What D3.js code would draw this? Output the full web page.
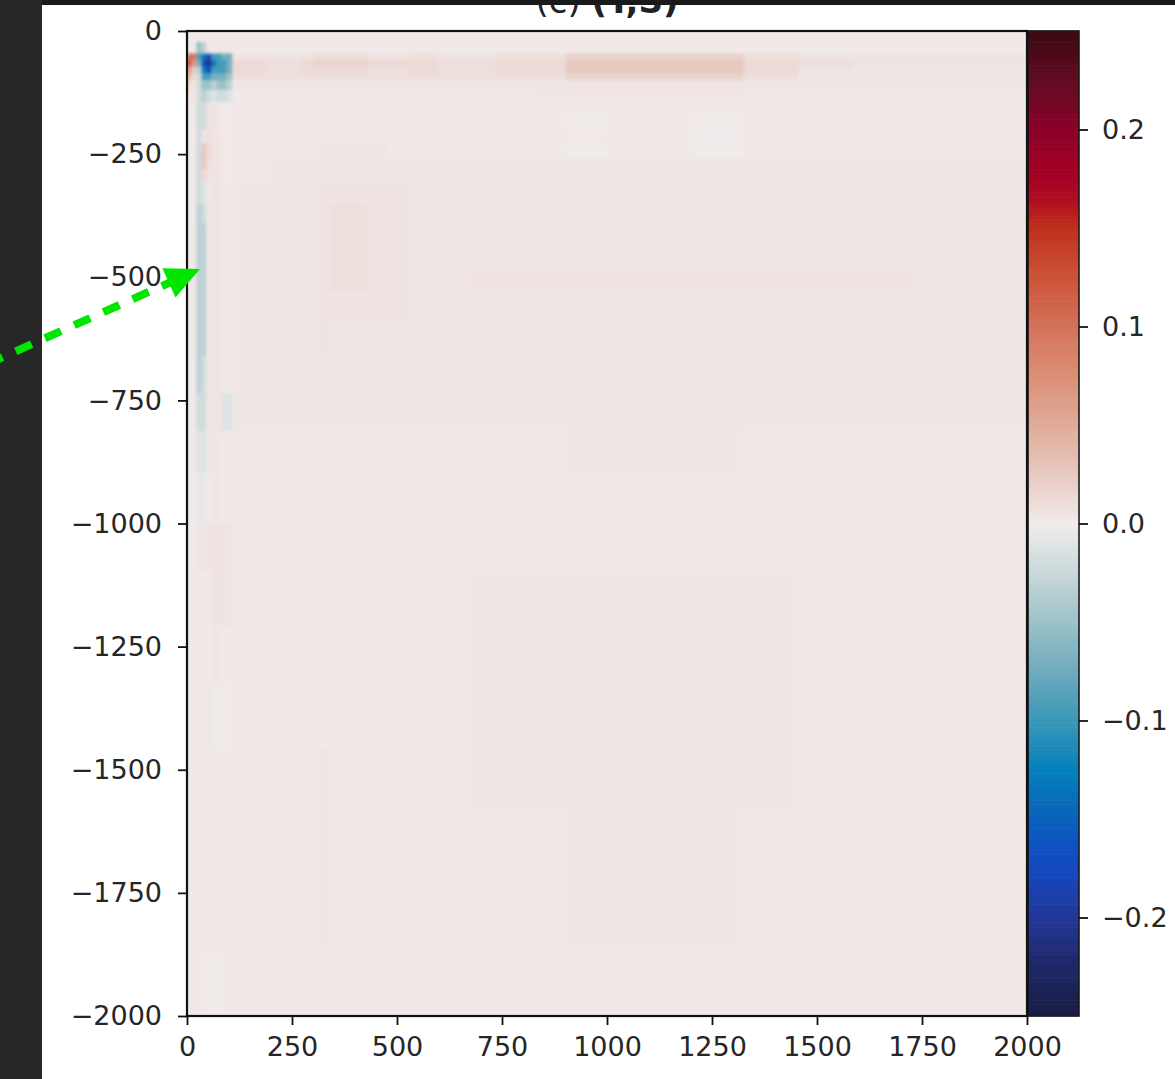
<!DOCTYPE html>
<html><head><meta charset="utf-8">
<script src="https://cdn.jsdelivr.net/npm/d3@7"></script>
<style>body{margin:0;background:#fff;overflow:hidden}svg{display:block}</style>
</head><body>
<svg id="chart" width="1175" height="1079"></svg>
<script>
// ---------- data ----------
const xEdges = [0, 10, 22, 34, 46, 58, 70, 82, 94, 108, 125, 150, 185, 225, 268, 300, 340, 385, 430, 480, 531, 595, 660, 736, 812, 902, 995, 1100, 1207, 1326, 1457, 1588, 1740, 2000];
const depthEdges = [0, 22, 45, 58, 72, 86, 100, 120, 145, 175, 200, 228, 256, 280, 305, 350, 390, 430, 475, 530, 590, 660, 735, 812, 897, 999, 1098, 1208, 1328, 1454, 1582, 1722, 1870, 2000];
const levelCodes  = ['A','B','C','D','E','F','G','H','I','J','0','1','2','3','4','5','6','7','8','9','R','S'];
const levelValues = [-0.21,-0.17,-0.13,-0.095,-0.07,-0.05,-0.033,-0.02,-0.011,-0.005,0,0.002,0.0035,0.0055,0.009,0.013,0.018,0.025,0.04,0.07,0.10,0.13];
// one string per depth row (top to bottom), one code per x column (spaces only for readability)
const fieldRows = [
  "111111111 111111 11111 11111 1111 1111",
  "11FG11111 111111 11111 11111 1111 1111",
  "RRDCBDDEE 333333 44433 43344 6666 4333",
  "S9EBACDDE 555445 66655 54455 7777 5433",
  "97GCBDDDE 555445 55544 54455 7777 5322",
  "85HDDEEEF 444444 44444 44444 6666 4222",
  "53HFFGFFG 222222 22222 22222 3333 2222",
  "32HGHIHHI 111111 11111 11112 2222 1111",
  "11HH33200 111111 11111 11111 1111 1111",
  "11HH33200 111111 11111 11111 0110 1111",
  "11H343301 111111 11111 11111 1110 1111",
  "11H753301 111111 22221 11111 0110 1111",
  "11H743301 111222 22222 22222 2222 2222",
  "11H533301 111222 22222 22222 2222 2222",
  "11HI23311 222222 33333 22222 2222 2222",
  "11GH23311 222222 34433 22222 2222 2222",
  "11GG23311 222222 34433 22222 2222 2222",
  "11GG23311 222222 34433 22222 2222 2222",
  "11GG23311 222222 34433 22333 3333 3332",
  "11GG23311 222222 33333 22222 2222 2222",
  "11GG23311 222222 32222 22222 2222 2222",
  "11GH23311 222222 22222 22222 2222 2222",
  "11HH233II 222222 22222 22222 2222 2222",
  "11IIJ2211 111111 11111 11111 2222 1111",
  "11JJ12211 111111 11111 11111 1111 1111",
  "11J333333 111111 11111 11111 1111 1111",
  "111113333 111111 11111 11222 2222 2111",
  "111112211 111111 11111 11222 2222 2111",
  "1111J1101 111111 11111 11222 2222 2111",
  "111111111 111111 21111 11222 2222 2111",
  "111111111 111111 21111 11111 2222 1111",
  "111111111 111111 21111 11111 2222 1111",
  "111100011 111111 11111 11111 1111 1111"
];
const xTicks = [0, 250, 500, 750, 1000, 1250, 1500, 1750, 2000];
const yTicks = [0, -250, -500, -750, -1000, -1250, -1500, -1750, -2000];
const cbarTicks = [-0.2, -0.1, 0.0, 0.1, 0.2];
const cbarRange = [-0.25, 0.25];
// cmocean "balance" colormap stops
const cmapValues = [-0.25,-0.22,-0.2,-0.18,-0.165,-0.15,-0.125,-0.1,-0.075,-0.05,-0.025,0,0.025,0.05,0.075,0.1,0.125,0.15,0.165,0.18,0.2,0.225,0.25];
const cmapColors = ["#181c43","#1f2a6e","#233799","#1546b8","#0f50c4","#0a61bb","#0480bb","#3a98b9","#6eabbd","#9cc2c8","#c9d8da","#f1eceb","#e7c9c0","#e0ab98","#da8f75","#d4725a","#cc5337","#c0301c","#b00b22","#a10026","#8a0229","#620b22","#3c0912"];
const titleParts = ["(c) ", "(T,S)"];

// ---------- drawing ----------
const svg = d3.select("#chart");
const W = 1175, H = 1079;
const plot = {left: 187, right: 1027, top: 31, bottom: 1016};
const cbar = {left: 1028, right: 1079};
const font = "DejaVu Sans, sans-serif";

const x = d3.scaleLinear().domain([0, 2000]).range([plot.left, plot.right]);
const y = d3.scaleLinear().domain([0, -2000]).range([plot.top, plot.bottom]);
const color = d3.scaleLinear().domain(cmapValues).range(cmapColors).interpolate(d3.interpolateRgb).clamp(true);
const codeToValue = new Map(levelCodes.map((c, i) => [c, levelValues[i]]));

svg.append("rect").attr("width", W).attr("height", H).attr("fill", "#ffffff");

const defs = svg.append("defs");
defs.append("clipPath").attr("id", "plotClip").append("rect")
  .attr("x", plot.left).attr("y", plot.top)
  .attr("width", plot.right - plot.left).attr("height", plot.bottom - plot.top);
defs.append("filter").attr("id", "soft").attr("x", "-5%").attr("y", "-5%").attr("width", "110%").attr("height", "110%")
  .append("feGaussianBlur").attr("stdDeviation", 1.4);

// title (partly covered by the dark strip on top, as in the reference)
const title = svg.append("text").attr("x", (plot.left + plot.right) / 2).attr("y", 13)
  .attr("text-anchor", "middle").attr("font-family", font).attr("font-size", 34).attr("fill", "#222");
title.append("tspan").text(titleParts[0]);
title.append("tspan").attr("font-weight", "bold").text(titleParts[1]);

// heatmap cells
const cells = [];
fieldRows.forEach((row, i) => {
  const codes = row.replace(/ /g, "").split("");
  codes.forEach((c, j) => {
    cells.push({x0: xEdges[j], x1: xEdges[j + 1], d0: depthEdges[i], d1: depthEdges[i + 1], v: codeToValue.get(c)});
  });
});
const clipG = svg.append("g").attr("clip-path", "url(#plotClip)");
const heat = clipG.append("g").attr("filter", "url(#soft)");
heat.append("rect").attr("x", plot.left - 6).attr("y", plot.top - 6)
  .attr("width", plot.right - plot.left + 12).attr("height", plot.bottom - plot.top + 12)
  .attr("fill", color(levelValues[11]));
heat.selectAll("rect.cell").data(cells).join("rect").attr("class", "cell")
  .attr("x", d => x(d.x0)).attr("y", d => y(-d.d0))
  .attr("width", d => x(d.x1) - x(d.x0) + 0.6)
  .attr("height", d => y(-d.d1) - y(-d.d0) + 0.6)
  .attr("fill", d => color(d.v));

// colorbar
const cy = d3.scaleLinear().domain(cbarRange).range([plot.bottom, plot.top]);
const nSteps = 256;
const steps = d3.range(nSteps).map(k => cbarRange[0] + (k + 0.5) * (cbarRange[1] - cbarRange[0]) / nSteps);
const stepH = (plot.bottom - plot.top) / nSteps;
svg.append("g").selectAll("rect").data(steps).join("rect")
  .attr("x", cbar.left).attr("width", cbar.right - cbar.left)
  .attr("y", d => cy(d) - stepH / 2 - 0.3).attr("height", stepH + 0.6)
  .attr("fill", d => color(d));
svg.append("rect").attr("x", cbar.left).attr("y", plot.top)
  .attr("width", cbar.right - cbar.left).attr("height", plot.bottom - plot.top)
  .attr("fill", "none").attr("stroke", "#1a1a1a").attr("stroke-width", 1.6);

// frame
svg.append("rect").attr("x", plot.left).attr("y", plot.top)
  .attr("width", plot.right - plot.left).attr("height", plot.bottom - plot.top)
  .attr("fill", "none").attr("stroke", "#111").attr("stroke-width", 2.2);

// axes
const fmtY = d => d < 0 ? "\u2212" + Math.abs(d) : String(d);
function styleAxis(g) {
  g.select(".domain").remove();
  g.selectAll(".tick line").attr("stroke", "#111").attr("stroke-width", 1.8);
  g.selectAll(".tick text").attr("fill", "#262626").attr("font-family", font).attr("font-size", 27);
}
svg.append("g").attr("transform", `translate(${plot.left},0)`)
  .call(d3.axisLeft(y).tickValues(yTicks).tickFormat(fmtY).tickSize(9).tickPadding(16))
  .call(styleAxis);
svg.append("g").attr("transform", `translate(0,${plot.bottom})`)
  .call(d3.axisBottom(x).tickValues(xTicks).tickFormat(d3.format("d")).tickSize(9).tickPadding(12))
  .call(styleAxis);
svg.append("g").attr("transform", `translate(${cbar.right},0)`)
  .call(d3.axisRight(cy).tickValues(cbarTicks).tickFormat(d3.format(".1f")).tickSize(9).tickPadding(14))
  .call(styleAxis);

// dark window surroundings
svg.append("rect").attr("x", 0).attr("y", 0).attr("width", W).attr("height", 5).attr("fill", "#1a1a1a");
svg.append("rect").attr("x", 0).attr("y", 0).attr("width", 42).attr("height", H).attr("fill", "#272727");

// green annotation arrow
const arrowStart = [3, 357], arrowTip = [200, 269];
const dx = arrowTip[0] - arrowStart[0], dy = arrowTip[1] - arrowStart[1];
const len = Math.hypot(dx, dy), ux = dx / len, uy = dy / len;
const headLen = 34, headHalf = 16;
const base = [arrowTip[0] - ux * headLen, arrowTip[1] - uy * headLen];
svg.append("line").attr("x1", arrowStart[0] - ux * 40).attr("y1", arrowStart[1] - uy * 40)
  .attr("x2", base[0] + ux * 4).attr("y2", base[1] + uy * 4)
  .attr("stroke", "#00e600").attr("stroke-width", 8).attr("stroke-dasharray", "17.5,14.5")
  .attr("stroke-dashoffset", 10);
svg.append("polygon").attr("fill", "#00e600").attr("points", [
  arrowTip,
  [base[0] - uy * headHalf, base[1] + ux * headHalf],
  [base[0] + uy * headHalf, base[1] - ux * headHalf]
].map(p => p.join(",")).join(" "));
</script>
</body></html>
